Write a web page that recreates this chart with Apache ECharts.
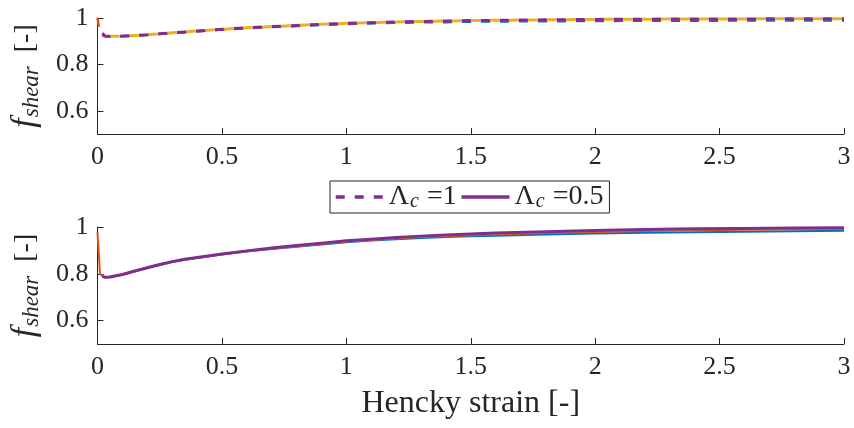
<!DOCTYPE html>
<html>
<head>
<meta charset="utf-8">
<script src="https://cdn.jsdelivr.net/npm/echarts@6/dist/echarts.min.js"></script>
<style>
  html, body { margin: 0; padding: 0; background: #fff; }
  #chart { width: 854px; height: 428px; }
</style>
</head>
<body>
<div id="chart"></div>
<script>
// Hencky strain sample points shared by every curve
const strain = [0, 0.01, 0.02, 0.03, 0.05, 0.1, 0.15, 0.2, 0.25, 0.3, 0.35, 0.4, 0.5, 0.6, 0.7, 0.8, 0.9, 1, 1.1, 1.2, 1.3, 1.4, 1.5, 1.6, 1.8, 2, 2.2, 2.4, 2.6, 2.8, 3];

// Upper panel: Lambda_c = 1 (dashed)
const topBlue   = [null, null, 0.932, 0.921, 0.920, 0.921, 0.924, 0.927, 0.931, 0.935, 0.939, 0.942, 0.949, 0.955, 0.960, 0.964, 0.969, 0.973, 0.976, 0.978, 0.980, 0.981, 0.983, 0.984, 0.985, 0.986, 0.987, 0.987, 0.988, 0.988, 0.988];
const topOrange = [1.000, 0.930, 0.924, 0.921, 0.920, 0.921, 0.924, 0.927, 0.931, 0.935, 0.939, 0.943, 0.950, 0.957, 0.962, 0.967, 0.972, 0.976, 0.979, 0.982, 0.984, 0.986, 0.988, 0.989, 0.991, 0.993, 0.994, 0.995, 0.995, 0.996, 0.996];
const topYellow = [null, null, 0.934, 0.922, 0.921, 0.922, 0.925, 0.928, 0.932, 0.936, 0.940, 0.944, 0.951, 0.958, 0.963, 0.968, 0.973, 0.977, 0.980, 0.983, 0.985, 0.987, 0.989, 0.990, 0.992, 0.994, 0.995, 0.996, 0.996, 0.997, 0.997];
const topPurple = [null, null, 0.935, 0.922, 0.921, 0.922, 0.925, 0.928, 0.932, 0.936, 0.940, 0.944, 0.951, 0.958, 0.963, 0.968, 0.973, 0.977, 0.980, 0.983, 0.985, 0.987, 0.989, 0.990, 0.992, 0.994, 0.995, 0.996, 0.996, 0.997, 0.997];

// Lower panel: Lambda_c = 0.5 (solid)
const botBlue   = [null, null, 0.790, 0.785, 0.786, 0.796, 0.811, 0.825, 0.838, 0.850, 0.860, 0.868, 0.882, 0.895, 0.906, 0.916, 0.925, 0.935, 0.942, 0.948, 0.953, 0.957, 0.960, 0.963, 0.968, 0.972, 0.975, 0.978, 0.980, 0.982, 0.984];
const botOrange = [0.977, 0.800, 0.790, 0.785, 0.786, 0.797, 0.812, 0.826, 0.839, 0.851, 0.861, 0.869, 0.884, 0.897, 0.908, 0.918, 0.928, 0.938, 0.945, 0.951, 0.957, 0.961, 0.965, 0.968, 0.974, 0.979, 0.983, 0.986, 0.988, 0.990, 0.991];
const botYellow = [null, null, 0.790, 0.785, 0.786, 0.797, 0.812, 0.826, 0.840, 0.852, 0.862, 0.870, 0.884, 0.897, 0.909, 0.919, 0.929, 0.939, 0.946, 0.953, 0.959, 0.964, 0.968, 0.972, 0.978, 0.983, 0.987, 0.990, 0.992, 0.994, 0.995];
const botPurple = [null, null, 0.790, 0.785, 0.786, 0.797, 0.812, 0.826, 0.840, 0.852, 0.862, 0.870, 0.885, 0.898, 0.910, 0.921, 0.931, 0.941, 0.948, 0.955, 0.961, 0.966, 0.970, 0.974, 0.980, 0.985, 0.989, 0.992, 0.994, 0.996, 0.997];

// Axis tick positions
const xTicks = [0, 0.5, 1, 1.5, 2, 2.5, 3];
const yTicks = [0.6, 0.8, 1];

const COLORS = { blue: '#0072BD', orange: '#D95319', yellow: '#EDB120', purple: '#7E2F8E' };
const INK = '#262626';
const FONT = 'Liberation Serif';

const pairs = vals => strain.map((x, i) => [x, vals[i]]);

function xAxis(gridIndex, withName) {
  const ax = {
    type: 'value', gridIndex, min: xTicks[0], max: xTicks[xTicks.length - 1],
    interval: xTicks[1] - xTicks[0],
    axisLine: { show: true, onZero: false, lineStyle: { color: INK, width: 1 } },
    axisTick: { show: true, inside: true, length: 6, lineStyle: { color: INK } },
    axisLabel: { color: INK, fontFamily: FONT, fontSize: 26, margin: 10 },
    splitLine: { show: false }
  };
  if (withName) {
    ax.name = 'Hencky strain [-]';
    ax.nameLocation = 'middle';
    ax.nameGap = 44;
    ax.nameTextStyle = { color: INK, fontFamily: FONT, fontSize: 32 };
  }
  return ax;
}

function yAxis(gridIndex) {
  return {
    type: 'value', gridIndex, min: 0.5, max: 1,
    axisLine: { show: true, onZero: false, lineStyle: { color: INK, width: 1 } },
    axisTick: { show: true, inside: true, length: 6, customValues: yTicks, lineStyle: { color: INK } },
    axisLabel: { color: INK, fontFamily: FONT, fontSize: 26, margin: 9, customValues: yTicks },
    splitLine: { show: false },
    name: '{f|f}{s|shear}{n|  [-]}',
    nameLocation: 'middle',
    nameRotate: 90,
    nameGap: 54,
    nameTextStyle: {
      color: INK, fontFamily: FONT,
      rich: {
        f: { fontFamily: FONT, fontStyle: 'italic', fontSize: 34, lineHeight: 36, color: INK },
        s: { fontFamily: FONT, fontStyle: 'italic', fontSize: 23, lineHeight: 24, padding: [12, 0, 0, 1], color: INK },
        n: { fontFamily: FONT, fontSize: 28, lineHeight: 36, color: INK }
      }
    }
  };
}

function line(name, data, color, width, dashed, idx, offset) {
  return {
    name, type: 'line', xAxisIndex: idx, yAxisIndex: idx,
    data: pairs(data), showSymbol: false, symbol: 'none',
    lineStyle: { color, width, type: dashed ? [9, 10] : 'solid', dashOffset: offset || 0 },
    itemStyle: { color },
    z: 2
  };
}

const chart = echarts.init(document.getElementById('chart'), null, { renderer: 'canvas' });
chart.setOption({
  animation: false,
  backgroundColor: '#fff',
  grid: [
    { left: 96, top: 18, width: 748, height: 116 },
    { left: 96, top: 227, width: 748, height: 117 }
  ],
  xAxis: [xAxis(0, false), xAxis(1, true)],
  yAxis: [yAxis(0), yAxis(1)],
  legend: {
    data: ['L1', 'L05'],
    left: 330, top: 181,
    orient: 'horizontal',
    itemWidth: 48, itemHeight: 12, itemGap: 3,
    padding: [1, 6, 1, 4],
    borderColor: INK, borderWidth: 1, backgroundColor: '#fff',
    itemStyle: { opacity: 0 },
    lineStyle: { width: 3.5 },
    formatter: n => n === 'L1' ? '{L|Λ}{c|c}{n| =1}' : '{L|Λ}{c|c}{n| =0.5}',
    textStyle: {
      color: INK, fontFamily: FONT, fontSize: 28,
      rich: {
        L: { fontFamily: FONT, fontSize: 28, lineHeight: 31, color: INK },
        c: { fontFamily: FONT, fontStyle: 'italic', fontSize: 20, lineHeight: 21, padding: [10, 1, 0, 1], color: INK },
        n: { fontFamily: FONT, fontSize: 28, lineHeight: 31, color: INK }
      }
    }
  },
  series: [
    line('topBlue', topBlue, COLORS.blue, 2, true, 0),
    line('topOrange', topOrange, COLORS.orange, 2.5, true, 0),
    line('topYellow', topYellow, COLORS.yellow, 3, true, 0, 9.5),
    line('L1', topPurple, COLORS.purple, 3, true, 0),
    line('botBlue', botBlue, COLORS.blue, 2, false, 1),
    line('botOrange', botOrange, COLORS.orange, 2, false, 1),
    line('botYellow', botYellow, COLORS.yellow, 2, false, 1),
    line('L05', botPurple, COLORS.purple, 3, false, 1)
  ]
});
</script>
</body>
</html>
